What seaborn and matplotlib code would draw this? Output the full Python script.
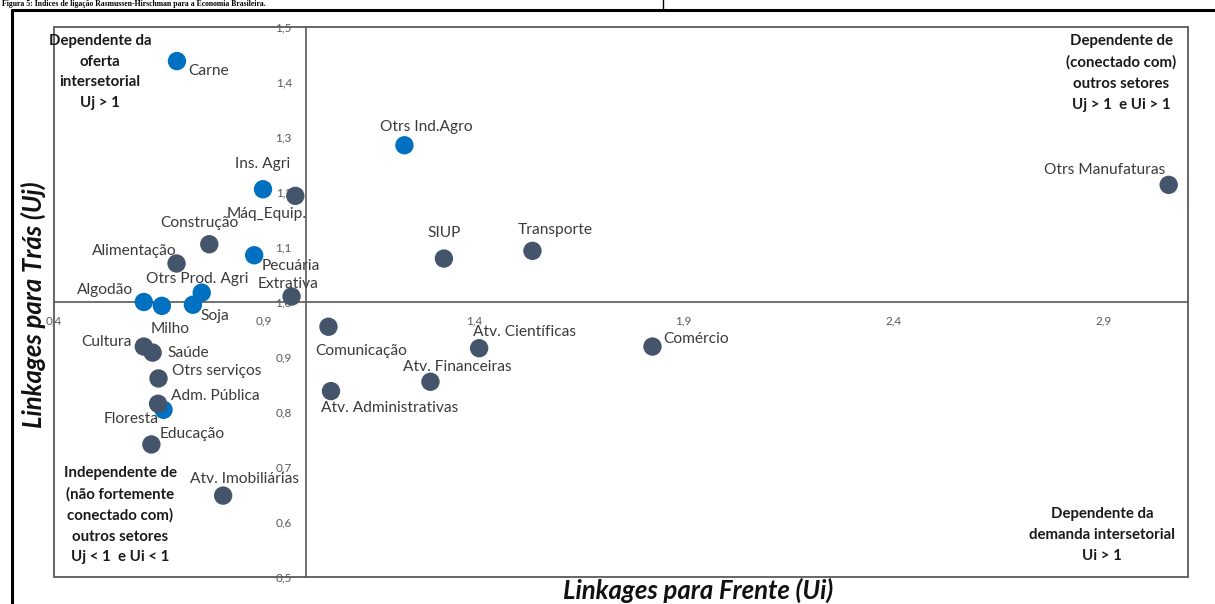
import matplotlib
matplotlib.use("Agg")
import matplotlib.pyplot as plt
import seaborn as sns
import pandas as pd
from matplotlib.patches import Rectangle
from matplotlib.lines import Line2D

# ---------------- data ----------------
sectors = ["Carne", "Otrs Ind.Agro", "Ins. Agri", "Pecuária", "Otrs Prod. Agri",
           "Algodão", "Milho", "Soja", "Floresta",
           "Máq_Equip.", "Construção", "Alimentação", "Extrativa", "SIUP",
           "Transporte", "Otrs Manufaturas", "Comunicação", "Atv. Científicas",
           "Atv. Financeiras", "Atv. Administrativas", "Comércio", "Cultura",
           "Saúde", "Otrs serviços", "Adm. Pública", "Educação", "Atv. Imobiliárias"]
ui = [0.693, 1.235, 0.898, 0.877, 0.752, 0.614, 0.657, 0.731, 0.661,
      0.975, 0.770, 0.692, 0.966, 1.329, 1.540, 3.056, 1.054, 1.413,
      1.297, 1.060, 1.826, 0.614, 0.635, 0.649, 0.648, 0.632, 0.803]
uj = [1.438, 1.285, 1.205, 1.085, 1.017, 1.000, 0.993, 0.995, 0.804,
      1.193, 1.105, 1.070, 1.010, 1.079, 1.093, 1.213, 0.955, 0.916,
      0.855, 0.838, 0.919, 0.919, 0.908, 0.861, 0.815, 0.741, 0.648]
group = ["agro"] * 9 + ["outros"] * 18

x_ticks = [0.4, 0.9, 1.4, 1.9, 2.4, 2.9]
x_ticklabels = ["0,4", "0,9", "1,4", "1,9", "2,4", "2,9"]
y_ticks = [0.5, 0.6, 0.7, 0.8, 0.9, 1.0, 1.1, 1.2, 1.3, 1.4, 1.5]
y_ticklabels = ["0,5", "0,6", "0,7", "0,8", "0,9", "1,0", "1,1", "1,2", "1,3", "1,4", "1,5"]

# label placement: (dx px, dy px, ha)
label_pos = {
    "Carne": (11, -10, "left"), "Otrs Ind.Agro": (22, 18, "center"),
    "Ins. Agri": (0, 25, "center"), "Máq_Equip.": (11, -18, "right"),
    "Construção": (-10, 21, "center"), "Alimentação": (0, 13, "right"),
    "Pecuária": (7, -11, "left"), "Extrativa": (-3, 12, "center"),
    "Otrs Prod. Agri": (-4, 14, "center"), "Algodão": (-11, 12, "right"),
    "Soja": (8, -11, "left"), "Milho": (8, -23, "center"),
    "Cultura": (-12, 5, "right"), "Saúde": (15, 0, "left"),
    "Otrs serviços": (13, 7, "left"), "Adm. Pública": (13, 8, "left"),
    "Floresta": (-5, -9, "right"), "Educação": (8, 10, "left"),
    "Atv. Imobiliárias": (21, 17, "center"), "Comunicação": (-13, -24, "left"),
    "Atv. Administrativas": (-10, -17, "left"), "Atv. Financeiras": (27, 15, "center"),
    "Atv. Científicas": (-6, 16, "left"), "Comércio": (11, 8, "left"),
    "SIUP": (0, 26, "center"), "Transporte": (-15, 21, "left"),
    "Otrs Manufaturas": (-3, 15, "right"),
}

df = pd.DataFrame({"Setor": sectors, "Ui": ui, "Uj": uj, "Grupo": group})

# ---------------- style ----------------
sns.set_theme(style="white")
plt.rcParams["font.family"] = ["Lato", "DejaVu Sans"]

W, H, DPI = 1215, 604, 100
fig = plt.figure(figsize=(W / DPI, H / DPI), dpi=DPI)
ax = fig.add_axes([54 / W, 27 / H, (1188 - 54) / W, (577 - 27) / H])

axis_col = "#595959"
sns.scatterplot(data=df, x="Ui", y="Uj", hue="Grupo",
                palette={"agro": "#0070C0", "outros": "#44546A"},
                s=175, edgecolor="none", legend=False, ax=ax, zorder=3)

ax.set_xlim(0.4, 3.102)
ax.set_ylim(0.5, 1.5)

# crossing axes at (1,1)
for side in ["top", "right"]:
    ax.spines[side].set_visible(False)
ax.spines["left"].set_position(("data", 1.0))
ax.spines["bottom"].set_position(("data", 1.0))
for side in ["left", "bottom"]:
    ax.spines[side].set_color(axis_col)
    ax.spines[side].set_linewidth(1.2)
ax.add_patch(Rectangle((0, 0), 1, 1, transform=ax.transAxes, fill=False,
                       edgecolor=axis_col, lw=1.3, zorder=4, clip_on=False))

ax.set_xticks(x_ticks)
ax.set_xticklabels(x_ticklabels)
ax.set_yticks(y_ticks)
ax.set_yticklabels(y_ticklabels)
ax.tick_params(axis="both", direction="inout", length=8, width=1.1,
               color=axis_col, labelcolor=axis_col, labelsize=8.5, pad=6)
ax.tick_params(axis="x", pad=6)
ax.set_xlabel("")
ax.set_ylabel("")

# point labels
for s_, x_, y_ in zip(sectors, ui, uj):
    dx, dy, ha = label_pos[s_]
    ax.annotate(s_, (x_, y_), xytext=(dx, dy), textcoords="offset pixels",
                ha=ha, va="center", fontsize=11.2, color="#3b3b3b", zorder=5)

# quadrant annotations
qkw = dict(transform=fig.transFigure, fontsize=10.8, fontweight="bold",
           color="#1a1a1a", ha="center", va="center", linespacing=1.62)
fig.text(100 / W, 1 - 72 / H, "Dependente da\noferta\nintersetorial\nUj > 1", **qkw)
fig.text(1121 / W, 1 - 73 / H, "Dependente de\n(conectado com)\noutros setores\nUj > 1  e Ui > 1", **qkw)
fig.text(120 / W, 1 - 515 / H, "Independente de\n(não fortemente\nconectado com)\noutros setores\nUj < 1  e Ui < 1", **qkw)
fig.text(1102 / W, 1 - 535 / H, "Dependente da\ndemanda intersetorial\nUi > 1", **qkw)

# axis titles
fig.text(698 / W, 1 - 590 / H, "Linkages para Frente (Ui)", ha="center", va="center",
         fontsize=18.5, fontweight="bold", fontstyle="italic", color="#111111")
fig.text(33 / W, 1 - 305 / H, "Linkages para Trás (Uj)", ha="center", va="center",
         rotation=90, fontsize=18.5, fontweight="bold", fontstyle="italic", color="#111111")

# outer frame and caption
fig.add_artist(Line2D([12 / W, 12 / W], [0, 1 - 9.5 / H], transform=fig.transFigure,
                      color="black", lw=2.2))
fig.add_artist(Line2D([12 / W, 1], [1 - 9.5 / H, 1 - 9.5 / H], transform=fig.transFigure,
                      color="black", lw=2.2))
fig.add_artist(Line2D([663 / W, 663 / W], [1 - 9.5 / H, 1], transform=fig.transFigure,
                      color="black", lw=1.0))
fig.text(2 / W, 1 - 6.5 / H,
         "Figura 5: Índices de ligação Rasmussen-Hirschman para a Economia Brasileira.",
         ha="left", va="baseline", fontsize=5.6, fontweight="bold",
         family="Liberation Serif", color="black")

fig.savefig("out.png", dpi=DPI)
